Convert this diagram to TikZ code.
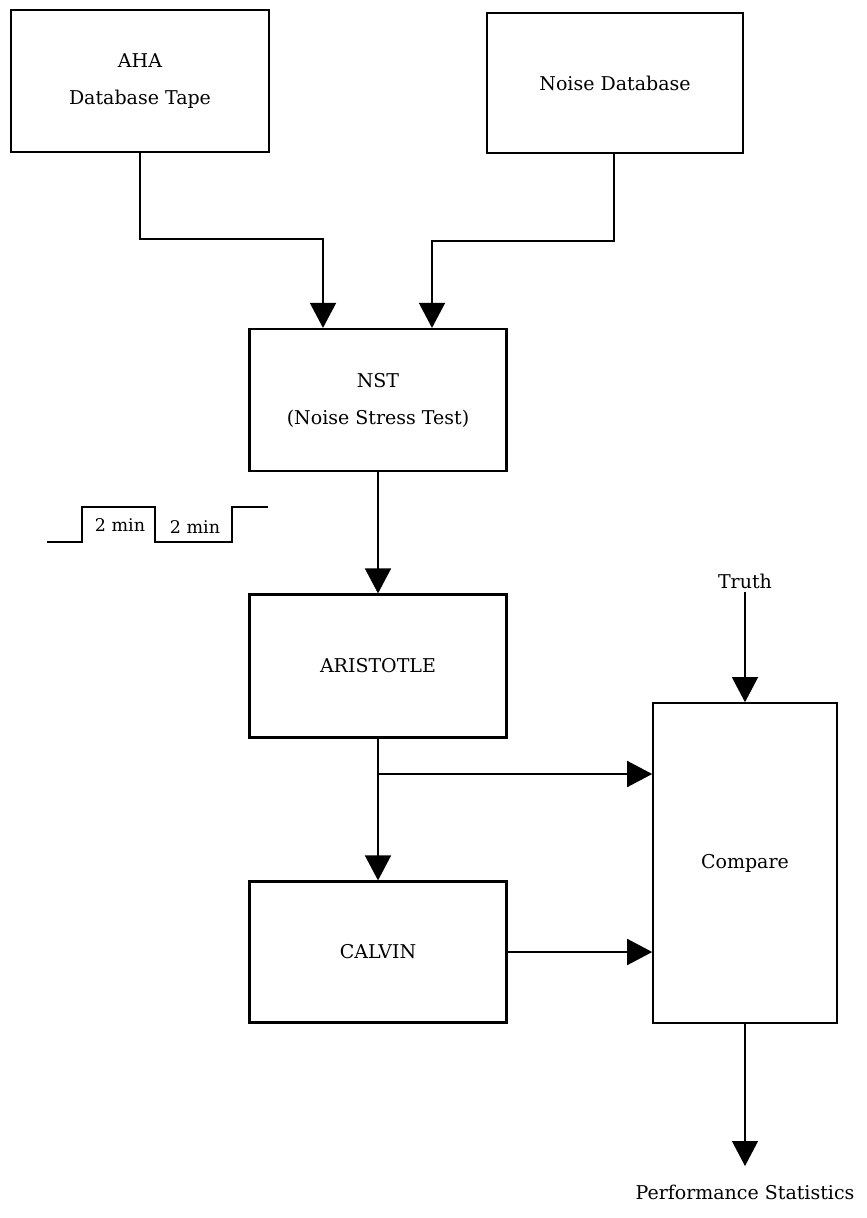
\documentclass[tikz,border=0pt]{standalone}
\usepackage{fontspec}
\newfontfamily\djvserif{DejaVu Serif}
\usetikzlibrary{arrows.meta,positioning}
\begin{document}
\begin{tikzpicture}[x=1pt,y=-1pt,
  txt/.style={font=\djvserif\fontsize{19}{37}\selectfont, align=center},
  blk/.style={draw, line width=2.2pt, txt, inner sep=0pt},
  conn/.style={line width=1.7pt},
  thin/.style={line width=1.2pt},
  tip/.style={-{Triangle[width=26pt,length=25pt]}},
  wtxt/.style={font=\djvserif\fontsize{17.5}{20}\selectfont}
]
\useasboundingbox (0,0) rectangle (867,1218);
% blocks
\node[blk, minimum width=258pt, minimum height=142pt] (aha) at (140,81) {AHA\\Database Tape};
\node[blk, minimum width=256pt, minimum height=140pt] (noise) at (615,83) {Noise Database};
\node[blk, minimum width=257pt, minimum height=142pt] (nst) at (378,400) {NST\\(Noise Stress Test)};
\node[blk, minimum width=257pt, minimum height=143pt] (ari) at (378,666) {ARISTOTLE};
\node[blk, minimum width=257pt, minimum height=141pt] (cal) at (378,952) {CALVIN};
\node[blk, line width=1.6pt, minimum width=184pt, minimum height=320pt] (cmp) at (745,863) {Compare};
% free texts
\node[txt] (truth) at (745,581) {Truth};
\node[txt] (perf) at (745,1192) {Performance Statistics};
\coordinate (perfin) at (745,1166);
\coordinate (branch) at (378,774);
% connectors
\draw[conn,tip] (aha.south) -- ++(0,86) -| ([xshift=-55pt]nst.north);
\draw[conn,tip] ([xshift=-1pt]noise.south) -- ++(0,87) -| ([xshift=54pt]nst.north);
\draw[conn,tip] (nst.south) -- (ari.north);
\draw[conn,tip] (ari.south) -- (cal.north);
\draw[conn,tip] (branch) -- (branch -| cmp.west);
\draw[conn,tip] (cal.east |- 0,952) -- (cmp.west |- 0,952);
\draw[thin,tip] (truth.south) -- (cmp.north);
\draw[thin,tip] (cmp.south) -- (perfin);
% timing waveform
\draw[conn] (47,542) -- (82,542) -- (82,507) -- (155,507) -- (155,542) -- (232,542) -- (232,507) -- (268,507);
\node[wtxt] (t1) at (120,525) {2 min};
\node[wtxt] (t2) at (195,527) {2 min};
\end{tikzpicture}
\end{document}
